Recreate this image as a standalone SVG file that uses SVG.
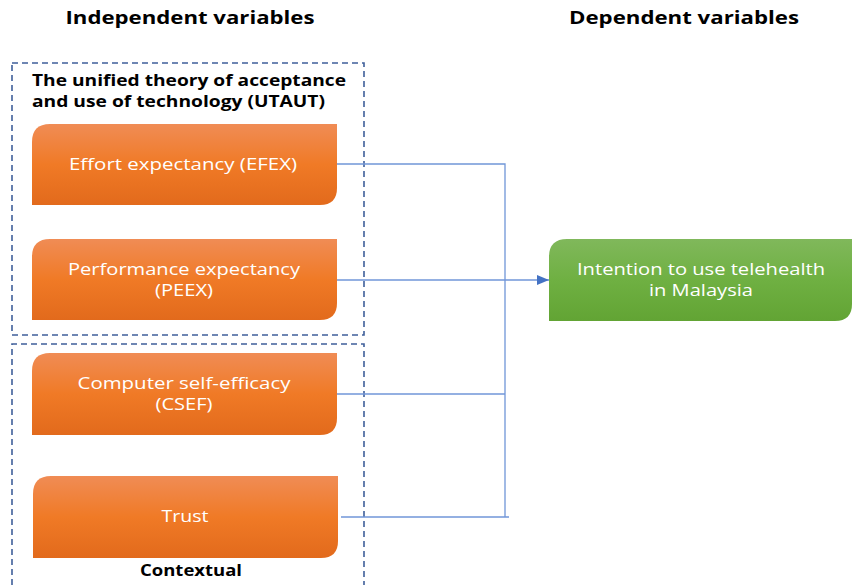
<svg xmlns="http://www.w3.org/2000/svg" width="854" height="585" viewBox="0 0 854 585">
<defs>
<linearGradient id="og" x1="0" y1="0" x2="0" y2="1">
<stop offset="0" stop-color="#F08C55"/>
<stop offset="0.5" stop-color="#F07A26"/>
<stop offset="1" stop-color="#E26A1C"/>
</linearGradient>
<linearGradient id="gg" x1="0" y1="0" x2="0" y2="1">
<stop offset="0" stop-color="#80B85B"/>
<stop offset="0.5" stop-color="#6FB042"/>
<stop offset="1" stop-color="#62A434"/>
</linearGradient>
<marker id="arr" markerWidth="12" markerHeight="10" refX="12" refY="5" orient="auto" markerUnits="userSpaceOnUse">
<path d="M0,0 L12,5 L0,10 z" fill="#4472C4"/>
</marker>
</defs>
<style>
.hd{font-family:"Open Sans","Liberation Sans",sans-serif;font-weight:bold;font-size:18px;fill:#000}
.sub{font-family:"Open Sans","Liberation Sans",sans-serif;font-weight:bold;font-size:16.5px;fill:#000}
.nt{font-family:"Open Sans","Liberation Sans",sans-serif;font-size:16px;fill:#fff;text-anchor:middle}
.dash{fill:none;stroke:#3F5F9A;stroke-width:1.6;stroke-dasharray:6,4}
.ln{fill:none;stroke:#7096D8;stroke-width:1.3}
</style>
<text class="hd" x="190" y="24" text-anchor="middle" textLength="249" lengthAdjust="spacingAndGlyphs">Independent variables</text>
<text class="hd" x="684" y="24" text-anchor="middle" textLength="230" lengthAdjust="spacingAndGlyphs">Dependent variables</text>
<g id="utaut-group">
<rect class="dash" x="12" y="63" width="352" height="272"/>
<text class="sub" x="32" y="86" textLength="314" lengthAdjust="spacingAndGlyphs">The unified theory of acceptance</text>
<text class="sub" x="32" y="107" textLength="293" lengthAdjust="spacingAndGlyphs">and use of technology (UTAUT)</text>
</g>
<g id="contextual-group">
<path class="dash" d="M12,585 L12,344 L364,344 L364,585"/>
<text class="sub" x="191" y="576" text-anchor="middle" textLength="102" lengthAdjust="spacingAndGlyphs">Contextual</text>
</g>
<g id="connectors">
<polyline class="ln" points="337,164 505,164 505,517"/>
<line class="ln" x1="337" y1="394" x2="505" y2="394"/>
<line class="ln" x1="341" y1="517" x2="509" y2="517"/>
<line class="ln" x1="337" y1="280" x2="549" y2="280" marker-end="url(#arr)"/>
</g>
<g id="efex">
<path d="M50,124 H337 V188 Q337,205 320,205 H32 V142 Q32,124 50,124 Z" fill="url(#og)"/>
<text class="nt" x="183" y="170" textLength="228" lengthAdjust="spacingAndGlyphs">Effort expectancy (EFEX)</text>
</g>
<g id="peex">
<path d="M50,239 H337 V303 Q337,320 320,320 H32 V257 Q32,239 50,239 Z" fill="url(#og)"/>
<text class="nt" x="184" y="275" textLength="232" lengthAdjust="spacingAndGlyphs">Performance expectancy</text>
<text class="nt" x="184" y="296" textLength="58" lengthAdjust="spacingAndGlyphs">(PEEX)</text>
</g>
<g id="csef">
<path d="M50,353 H337 V418 Q337,435 320,435 H32 V371 Q32,353 50,353 Z" fill="url(#og)"/>
<text class="nt" x="184" y="389" textLength="213" lengthAdjust="spacingAndGlyphs">Computer self-efficacy</text>
<text class="nt" x="184" y="410" textLength="57" lengthAdjust="spacingAndGlyphs">(CSEF)</text>
</g>
<g id="trust">
<path d="M51,476 H338 V541 Q338,558 321,558 H33 V494 Q33,476 51,476 Z" fill="url(#og)"/>
<text class="nt" x="185" y="522" textLength="47" lengthAdjust="spacingAndGlyphs">Trust</text>
</g>
<g id="intention">
<path d="M567,239 H852 V304 Q852,321 835,321 H549 V257 Q549,239 567,239 Z" fill="url(#gg)"/>
<text class="nt" x="701" y="275" textLength="248" lengthAdjust="spacingAndGlyphs">Intention to use telehealth</text>
<text class="nt" x="701" y="296" textLength="104" lengthAdjust="spacingAndGlyphs">in Malaysia</text>
</g>
</svg>
